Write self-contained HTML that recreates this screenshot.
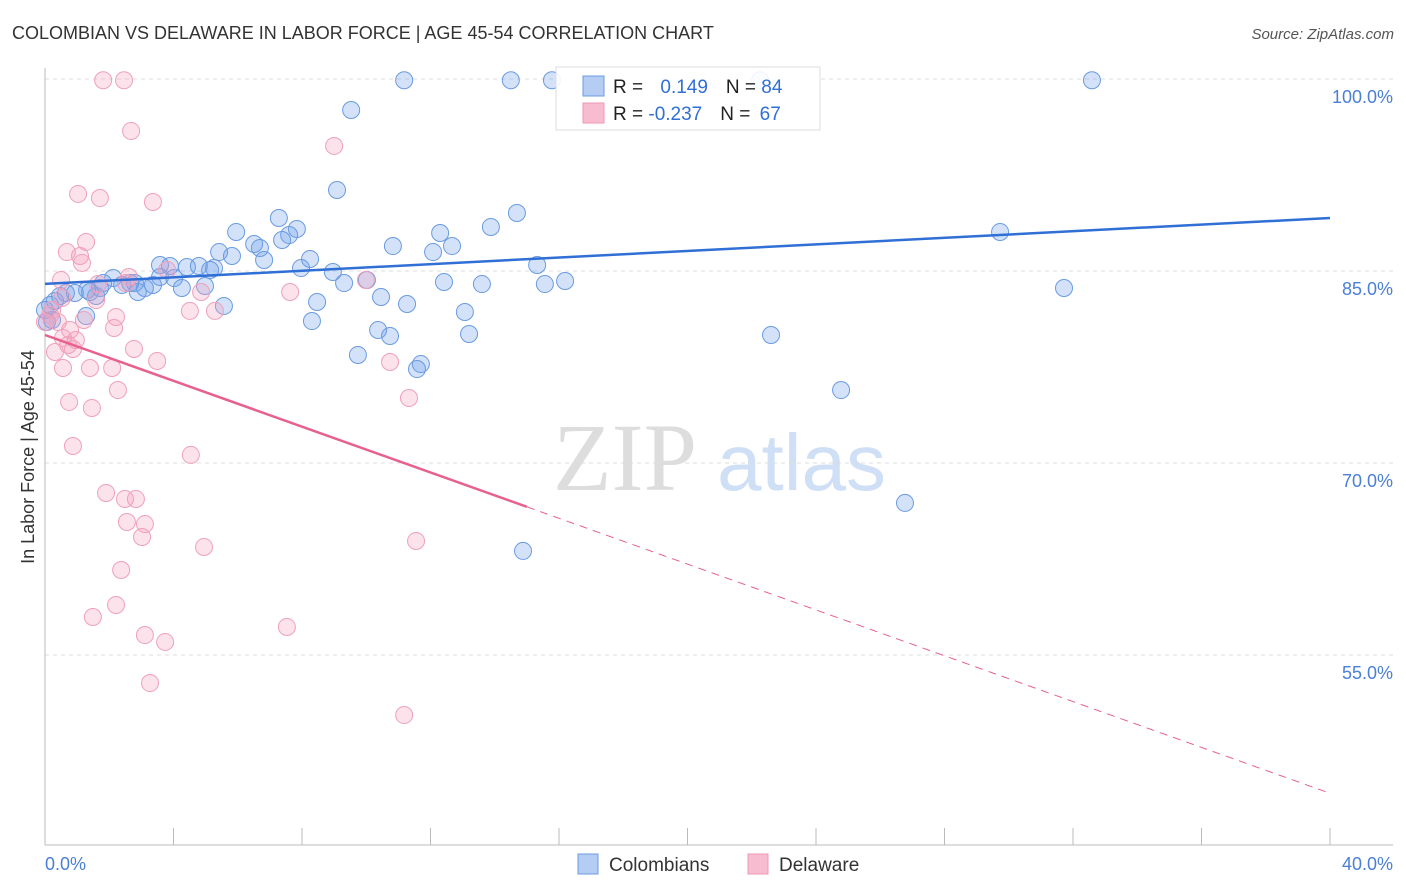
<!DOCTYPE html>
<html><head><meta charset="utf-8"><style>
body{margin:0;background:#fff;font-family:"Liberation Sans",sans-serif;}
svg{display:block}
</style></head><body>
<svg id="chart" width="1406" height="892" xmlns="http://www.w3.org/2000/svg">
<text x="12" y="39" font-size="18" fill="#333">COLOMBIAN VS DELAWARE IN LABOR FORCE | AGE 45-54 CORRELATION CHART</text>
<text x="1394" y="39" font-size="15" fill="#555" font-style="italic" text-anchor="end">Source: ZipAtlas.com</text>
<text transform="translate(34,457) rotate(-90)" font-size="18" fill="#333" text-anchor="middle">In Labor Force | Age 45-54</text>
<g>
<text x="553" y="490" font-family="Liberation Serif,serif" font-size="96" fill="#ddd">ZIP</text>
<text x="717" y="490" font-size="80" fill="#cfdff5">atlas</text>
</g>
<g id="grid"></g><g id="axes"></g><g id="marks"></g>
<g>
<rect x="556" y="67" width="264" height="63" fill="#fff" fill-opacity="0.9" stroke="#ddd"/>
<rect x="583" y="76" width="21" height="20" fill="#b5cdf3" stroke="#6a9be0"/>
<rect x="583" y="103" width="21" height="20" fill="#f7bcd0" stroke="#ee9ab6"/>
<text x="613" y="93" font-size="19" fill="#222">R = <tspan fill="#2f6fd6" dx="12">0.149</tspan><tspan fill="#222" dx="18">N = </tspan><tspan fill="#2f6fd6">84</tspan></text>
<text x="613" y="120" font-size="19" fill="#222">R = <tspan fill="#2f6fd6">-0.237</tspan><tspan fill="#222" dx="18">N = </tspan><tspan fill="#2f6fd6" dx="4">67</tspan></text>
</g>
<g>
<rect x="578" y="854" width="20" height="20" fill="#b5cdf3" stroke="#6a9be0"/>
<text x="609" y="871" font-size="19" fill="#333">Colombians</text>
<rect x="748" y="854" width="20" height="20" fill="#f7bcd0" stroke="#ee9ab6"/>
<text x="779" y="871" font-size="19" fill="#333">Delaware</text>
</g>
<text x="45" y="870" font-size="18" fill="#4a7fd6">0.0%</text>
<text x="1393" y="870" font-size="18" fill="#4a7fd6" text-anchor="end">40.0%</text>
</svg>
<script>
const blueX=[11.18,14.5,15.78,22.26,32.59,9.53,9.09,14.69,7.28,13.88,5.95,12.30,7.84,7.60,6.51,7.38,12.67,10.83,5.42,5.82,6.82,12.08,8.25,3.89,4.42,4.79,5.26,7.97,15.32,8.96,3.58,4.02,4.26,4.98,9.31,10.02,12.42,13.60,15.56,16.19,2.12,2.80,2.40,3.36,3.11,2.89,1.71,1.31,0.93,0.65,0.47,0.31,0.16,0,0.06,0.22,1.59,1.81,5.57,8.47,10.46,11.27,8.31,13.07,10.37,10.74,13.20,9.74,11.70,11.58,29.73,31.72,22.60,24.78,26.77,14.88,1.28,2.65,5.14,6.69,3.58,1.40];
const blueY=[99.9,99.9,99.9,99.9,99.9,97.58,91.33,89.53,89.14,88.44,88.05,87.97,88.28,87.81,87.11,87.42,86.95,86.95,86.48,86.17,85.86,86.48,85.94,85.39,85.31,85.39,85.23,85.23,85.47,84.92,84.53,84.45,83.67,83.83,84.06,84.30,84.14,83.98,83.98,84.22,84.45,84.06,83.91,83.91,83.67,83.36,83.67,83.52,83.28,83.28,83.05,82.66,82.34,81.95,81.02,81.17,83.05,84.06,82.27,82.58,82.97,82.42,81.09,81.80,80.39,79.92,80.08,78.44,77.73,77.34,88.05,83.67,80.0,75.70,66.88,63.13,81.48,84.06,85.08,86.80,85.47,83.36];
const pinkX=[1.81,2.46,2.68,9.00,1.03,1.71,3.36,1.28,0.68,1.09,1.15,0.50,2.61,3.80,2.52,1.65,1.59,0.53,0.22,0.40,1.21,2.21,2.15,0.78,0.56,0.96,0.72,0.87,0.31,2.77,3.49,4.51,5.29,4.86,7.63,9.99,10.74,11.33,0.56,1.40,2.09,2.27,0.75,1.46,0.87,4.54,1.90,2.49,2.83,2.55,3.11,3.02,4.95,11.55,2.37,2.21,1.49,7.53,3.11,3.74,3.27,11.18,17.18,0,0.16];
const pinkY=[99.9,99.9,95.94,94.77,91.02,90.70,90.39,87.27,86.48,86.17,85.63,84.30,84.53,85.08,84.06,83.98,82.73,82.89,81.95,81.02,81.17,81.41,80.55,80.39,79.77,79.61,79.22,78.91,78.67,78.91,77.97,81.88,81.88,83.36,83.36,84.30,77.89,75.08,77.42,77.42,77.42,75.70,74.77,74.30,71.33,70.63,67.66,67.19,67.19,65.39,65.23,64.22,63.44,63.91,61.64,58.91,57.97,57.19,56.56,56.02,52.81,50.31,97.03,81.02,81.56];
const yTicks=[100,85,70,55];
const yTickLabels=["100.0%","85.0%","70.0%","55.0%"];
const blueTrend=[83.99,89.14];
const pinkTrend=[80.0,44.2];
const pinkSolidEnd=15.0;

const NS="http://www.w3.org/2000/svg";
const X0=45,X1=1330,Y100=79,PX_PER=12.8;
const sx=v=>X0+(X1-X0)*v/40;
const sy=v=>Y100+(100-v)*PX_PER;
function mk(tag,attrs,parent){const e=document.createElementNS(NS,tag);for(const k in attrs)e.setAttribute(k,attrs[k]);parent.appendChild(e);return e;}
const grid=document.getElementById('grid'),axes=document.getElementById('axes'),marks=document.getElementById('marks');
yTicks.forEach((t,i)=>{
 const l=mk('line',{x1:45,x2:1393,y1:sy(t),y2:sy(t),stroke:'#ddd','stroke-dasharray':'4,4'},grid);
 
 
 const tx=mk('text',{x:1393,y:sy(t)+24,'font-size':18,fill:'#4a7fd6','text-anchor':'end'},grid);
 tx.textContent=yTickLabels[i];
 
 
});
const ya=mk('line',{x1:45,x2:45,y1:68,y2:845,stroke:'#bbb'},axes);


const xa=mk('line',{x1:45,x2:1393,y1:845,y2:845,stroke:'#bbb'},axes);


for(let i=0;i<=10;i++){
 const t=mk('line',{x1:sx(i*4),x2:sx(i*4),y1:828,y2:845,stroke:'#bbb'},axes);
 
 
}
blueX.forEach((v,i)=>{
 const c=mk('circle',{cx:sx(v),cy:sy(blueY[i]),r:8.5,fill:'rgba(110,160,235,0.3)',stroke:'#6a9be0','stroke-width':1},marks);
 
 
});
pinkX.forEach((v,i)=>{
 const c=mk('circle',{cx:sx(v),cy:sy(pinkY[i]),r:8.5,fill:'rgba(245,160,190,0.3)',stroke:'#f0a0bb','stroke-width':1},marks);
 
 
});
const bl=mk('line',{x1:sx(0),y1:sy(blueTrend[0]),x2:sx(40),y2:sy(blueTrend[1]),stroke:'#2f6fd6','stroke-width':2.5},marks);


const pAt=x=>pinkTrend[0]+(pinkTrend[1]-pinkTrend[0])*x/40;
const pl=mk('line',{x1:sx(0),y1:sy(pinkTrend[0]),x2:sx(pinkSolidEnd),y2:sy(pAt(pinkSolidEnd)),stroke:'#e8608f','stroke-width':2.5},marks);


const pd=mk('line',{x1:sx(pinkSolidEnd),y1:sy(pAt(pinkSolidEnd)),x2:sx(40),y2:sy(pinkTrend[1]),stroke:'#e8608f','stroke-width':1,'stroke-dasharray':'8,6'},marks);


</script>
</body></html>
